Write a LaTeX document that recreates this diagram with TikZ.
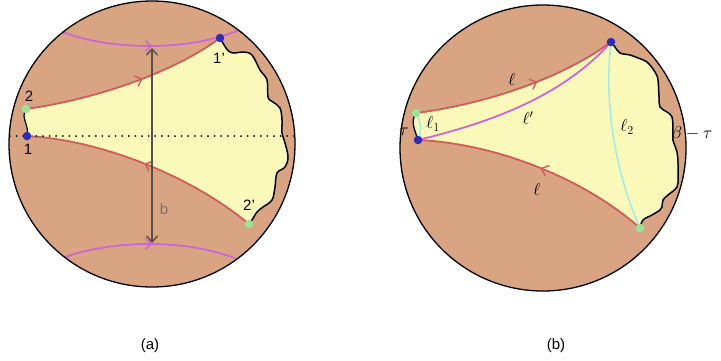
\documentclass[tikz,border=0pt]{standalone}
\usepackage{fontspec}
\newfontfamily\sflab{Liberation Sans}
\usetikzlibrary{arrows.meta,decorations.markings}
\definecolor{bgbrown}{RGB}{217,164,130}
\definecolor{bgyellow}{RGB}{250,249,185}
\definecolor{geored}{RGB}{208,92,92}
\definecolor{geomag}{RGB}{204,102,214}
\definecolor{geocyan}{RGB}{160,238,232}
\definecolor{dotblue}{RGB}{44,44,184}
\definecolor{dotgreen}{RGB}{152,228,152}
\definecolor{arrgray}{RGB}{92,78,72}
\begin{document}
\begin{tikzpicture}[x=1pt,y=-1pt,
  disc/.style={fill=bgbrown},
  rim/.style={draw=black,line width=1.3pt},
  yel/.style={fill=bgyellow},
  redgeo/.style={draw=geored,line width=1.8pt},
  maggeo/.style={draw=geomag,line width=1.8pt},
  cyangeo/.style={draw=geocyan,line width=1.6pt},
  wavy/.style={draw=black,line width=1.5pt},
  fwd/.style={postaction={decorate},decoration={markings,
     mark=at position #1 with {\arrow{Straight Barb[length=6pt,width=11pt,line width=1.4pt]}}}},
  bwd/.style={postaction={decorate},decoration={markings,
     mark=at position #1 with {\arrowreversed{Straight Barb[length=6pt,width=11pt,line width=1.4pt]}}}},
  bluedot/.style={circle,fill=dotblue,inner sep=0pt,minimum size=8.5pt},
  greendot/.style={circle,fill=dotgreen,inner sep=0pt,minimum size=8.5pt},
  sflbl/.style={font=\sflab\fontsize{15}{17}\selectfont},
  mlbl/.style={font=\fontsize{18}{21}\selectfont},
]
\useasboundingbox (0,0) rectangle (721,360);

%%%%%%%%%%%% (a) %%%%%%%%%%%%
\coordinate (ca) at (152,144);
\coordinate (a1) at (27,136);
\coordinate (a2) at (26,109);
\coordinate (a1p) at (220,38);
\coordinate (a2p) at (249,224);
\coordinate (vt) at (152,48);
\coordinate (vb) at (152,243);
\coordinate (dl) at (10,136);
\coordinate (dr) at (297,136);

\def\wavya{(220,38) (226,48) (230,52) (235,53) (243,52) (252,55) (260,70) (267,80) (268,97) (273,102) (280,108) (282,120) (282,133) (285,143) (288,157) (285,167) (277,173) (275,187) (272,200) (263,207) (257,212) (252,220) (249,224)}

\fill[disc] (ca) circle[radius=143pt];
\fill[yel] (a2) .. controls (90,100) and (170,75) .. (a1p)
  -- plot[smooth,tension=0.6] coordinates {\wavya}
  -- (a2p) .. controls (190,175) and (100,140) .. (a1)
  .. controls (30,126) and (20,118) .. (a2) -- cycle;

\begin{scope}
\clip (ca) circle[radius=143pt];
\draw[maggeo,fwd=0.5] (60,31) .. controls (110,51) and (192,52) .. (244,28);
\draw[maggeo,fwd=0.5] (60,259) .. controls (110,239) and (192,238) .. (244,262);
\end{scope}

\draw[redgeo,fwd=0.58] (a2) .. controls (90,100) and (170,75) .. (a1p);
\draw[redgeo,bwd=0.5] (a1) .. controls (100,140) and (190,175) .. (a2p);
\draw[wavy] plot[smooth,tension=0.6] coordinates {\wavya};
\draw[wavy,line width=1.2pt] (a2) .. controls (20,118) and (30,126) .. (a1);
\draw[black,line width=2pt,dash pattern=on 0pt off 6.6pt,line cap=round] (dl) -- (dr);
\draw[arrgray,line width=1.4pt,{Straight Barb[length=6pt,width=11pt]}-{Straight Barb[length=6pt,width=11pt]}] (vt) -- (vb);
\node[sflbl,text=arrgray!80] (lb) at (164,209) {b};

\draw[rim] (ca) circle[radius=143pt];

\node[bluedot] (n1) at (a1) {};
\node[greendot] (n2) at (a2) {};
\node[bluedot] (n1p) at (a1p) {};
\node[greendot] (n2p) at (a2p) {};
\node[sflbl] (t2) at (29,96) {2};
\node[sflbl] (t1) at (28,149) {1};
\node[sflbl] (t1p) at (219,58) {1’};
\node[sflbl] (t2p) at (249,205) {2’};

%%%%%%%%%%%% (b) %%%%%%%%%%%%
\coordinate (cb) at (543,148);
\coordinate (bL) at (418,140);
\coordinate (gL) at (416,113);
\coordinate (bT) at (611,42);
\coordinate (gB) at (640,228);

\def\wavyb{(611,42) (615,47) (620,53) (630,55) (638,58) (647,62) (655,72) (658,80) (659,97) (660,107) (667,112) (672,117) (673,130) (673,140) (677,152) (678,163) (678,177) (677,187) (668,195) (663,200) (662,207) (660,210) (652,215) (643,220) (640,228)}

\fill[disc] (cb) circle[radius=143pt];
\fill[yel] (gL) .. controls (480,105) and (560,80) .. (bT)
  -- plot[smooth,tension=0.6] coordinates {\wavyb}
  -- (gB) .. controls (580,175) and (490,143) .. (bL)
  .. controls (415,130) and (410,122) .. (gL) -- cycle;

\draw[cyangeo] (gL) .. controls (421,122) and (422,132) .. (bL);
\draw[cyangeo] (bT) .. controls (604,100) and (614,170) .. (gB);
\draw[maggeo] (bL) .. controls (480,125) and (560,100) .. (bT);
\draw[redgeo,fwd=0.6] (gL) .. controls (480,105) and (560,80) .. (bT);
\draw[redgeo,bwd=0.52] (bL) .. controls (490,143) and (580,175) .. (gB);
\draw[wavy] plot[smooth,tension=0.6] coordinates {\wavyb};
\draw[wavy,line width=1.3pt] (gL) .. controls (410,122) and (415,130) .. (bL);

\draw[rim] (cb) circle[radius=143pt];

\node[bluedot] (m1) at (bL) {};
\node[greendot] (m2) at (gL) {};
\node[bluedot] (m3) at (bT) {};
\node[greendot] (m4) at (gB) {};

\node[mlbl] (lu) at (512,79) {$\ell$};
\node[mlbl] (lp) at (528,118) {$\ell'$};
\node[mlbl] (ld) at (537,189) {$\ell$};
\node[mlbl] (l1) at (433,124) {$\ell_1$};
\node[mlbl] (l2) at (627,127) {$\ell_2$};
\node[mlbl] (tau) at (404,132) {$\tau$};
\node[mlbl,anchor=west] (bt) at (668,134) {$\beta-\tau$};

%%%%%%%%%%%% captions %%%%%%%%%%%%
\node[font=\sflab\fontsize{15}{17}\selectfont] (capa) at (150,346) {(a)};
\node[font=\sflab\fontsize{15}{17}\selectfont] (capb) at (556,346) {(b)};
\end{tikzpicture}
\end{document}
